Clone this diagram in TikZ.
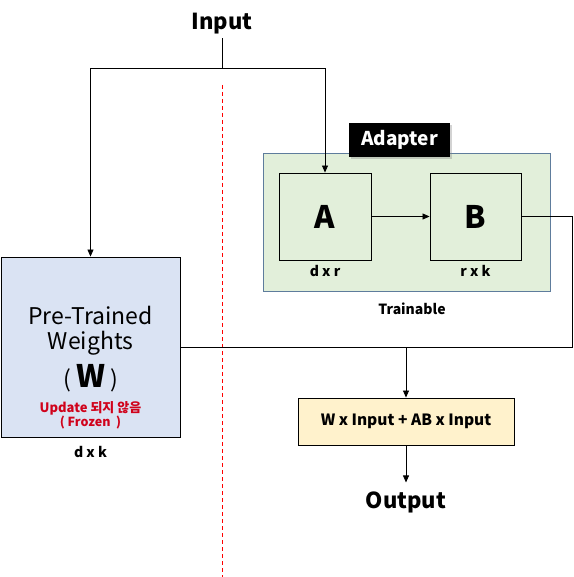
\documentclass[tikz,border=0pt]{standalone}
\usepackage{fontspec}
\setmainfont{Noto Sans CJK KR}
\usetikzlibrary{arrows.meta,shadows}
\definecolor{wfill}{HTML}{DAE3F3}
\definecolor{gfill}{HTML}{E2EFDA}
\definecolor{gline}{HTML}{5E7C9C}
\definecolor{sfill}{HTML}{FFF2CC}
\definecolor{frozen}{HTML}{D0021B}
\tikzset{
  box/.style={draw, line width=0.9pt, inner sep=0pt},
  arr/.style={-{Triangle[length=7pt,width=6pt]}, line width=0.8pt},
  wire/.style={line width=0.8pt},
  dim/.style={font=\fontsize{14}{14}\selectfont\bfseries},
}
\begin{document}
\begin{tikzpicture}[x=1pt, y=-1pt]
\useasboundingbox (0,0) rectangle (573,577);
\draw[red, dash pattern=on 4pt off 3pt, line width=0.8pt] (222,85) -- (222,577);
\node[font=\fontsize{22}{22}\selectfont\bfseries] (in) at (222,24){Input};
\coordinate (ji) at (222,68);
\node[box, fill=gfill, draw=gline, minimum width=287pt, minimum height=138pt] (adp) at (406.5,222){};
\node[fill=black, text=white, drop shadow={shadow xshift=2pt, shadow yshift=-2pt, opacity=0.35}, minimum width=101pt, minimum height=34pt, inner sep=0pt, font=\fontsize{19}{19}\selectfont\bfseries] (adl) at (399.5,140){Adapter};
\node[box, fill=gfill, minimum width=92pt, minimum height=87pt, font=\fontsize{31}{31}\selectfont\bfseries] (A) at (325,216.5){A};
\node[box, fill=gfill, minimum width=91pt, minimum height=87pt, font=\fontsize{31}{31}\selectfont\bfseries] (B) at (475.5,216.5){B};
\node[dim] (dA) at (325,271){d x r};
\node[dim] (dB) at (475.5,271){r x k};
\node[dim] (tr) at (412,309){Trainable};
\node[box, fill=wfill, minimum width=179pt, minimum height=180pt, align=center] (W) at (90.5,347){};
\node[font=\fontsize{23}{23}\selectfont] (wt1) at (90.5,315){Pre-Trained};
\node[font=\fontsize{23}{23}\selectfont] (wt2) at (90.5,343){Weights};
\node[font=\fontsize{23}{23}\selectfont] (wt3) at (90.5,378){(~{\fontsize{31}{31}\selectfont\bfseries W}~)};
\node[text=frozen, font=\fontsize{13}{13}\selectfont\bfseries] (wt4) at (90.5,408){Update 되지 않음};
\node[text=frozen, font=\fontsize{12.5}{12.5}\selectfont\bfseries] (wt5) at (90.5,423){(~Frozen~~)};
\node[dim] (dW) at (90.5,452){d x k};
\node[box, fill=sfill, minimum width=216pt, minimum height=47pt, font=\fontsize{15.5}{15.5}\selectfont\bfseries] (sum) at (406,421.5){W x Input + AB x Input};
\node[font=\fontsize{22}{22}\selectfont\bfseries] (out) at (406,502){Output};
\coordinate (jr) at (572,347);
\coordinate (js) at (406,347);
\draw[wire] (in) -- (ji);
\draw[arr] (ji) -| (W.north);
\draw[arr] (ji) -| (A.north);
\draw[arr] (A) -- (B);
\draw[wire] (B.east) -| (jr) -- (W.east);
\draw[arr] (js) -- (sum.north);
\draw[arr] (sum.south) -- ++(0,37);
\end{tikzpicture}
\end{document}
